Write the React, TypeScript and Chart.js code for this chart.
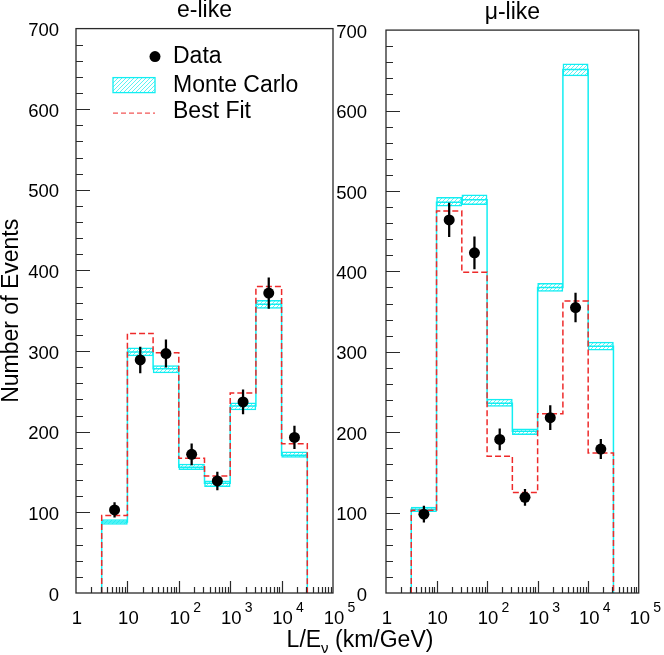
import React, { useEffect, useRef } from 'react';
import { Chart, registerables } from 'chart.js';

Chart.register(...registerables);

// ---- data ----
const binEdgeExponents = [0.5, 1, 1.5, 2, 2.5, 3, 3.5, 4, 4.5];
const decadeExponents = [0, 1, 2, 3, 4, 5];
const legendLabels = ['Data', 'Monte Carlo', 'Best Fit'];
const panelTitles = ['e-like', 'μ-like'];
const yAxisTitle = 'Number of Events';

const eLikeMcLow = [85, 294, 273, 153, 132, 227, 353, 168];
const eLikeMc = [88, 299, 278, 156, 136, 232, 358, 171];
const eLikeMcHigh = [91, 304, 282, 160, 139, 236, 363, 175];
const eLikeFit = [96, 322, 298, 167, 145, 248, 380, 185];
const eLikeData = [103, 289, 297, 172, 139, 237, 372, 193];
const eLikeErr = [9, 16, 17, 13, 11, 15, 19, 14];

const muLikeMcLow = [101, 481, 483, 232, 197, 375, 643, 302];
const muLikeMc = [104, 486, 489, 236, 201, 380, 651, 307];
const muLikeMcHigh = [107, 492, 495, 241, 204, 385, 658, 312];
const muLikeFit = [103, 475, 399, 170, 125, 223, 363, 174];
const muLikeData = [98, 464, 423, 191, 119, 218, 355, 179];
const muLikeErr = [10, 21, 20, 13, 10, 15, 18, 12];

const FONT = '"Liberation Sans", Arial, Helvetica, sans-serif';
const CYAN = '#12eef2';
const HATCH = '#5cf2f4';
const RED = '#ee2a2a';
const INK = '#2a2a2a';

const edges = binEdgeExponents.map((e) => Math.pow(10, e));
const centers = binEdgeExponents
  .slice(0, -1)
  .map((e, i) => Math.pow(10, (e + binEdgeExponents[i + 1]) / 2));

function stepPoints(vals: number[]) {
  const pts: { x: number; y: number }[] = [{ x: edges[0], y: 0 }];
  vals.forEach((v, i) => {
    pts.push({ x: edges[i], y: v });
    pts.push({ x: edges[i + 1], y: v });
  });
  pts.push({ x: edges[edges.length - 1], y: 0 });
  return pts;
}

function makeHatch(ctx: CanvasRenderingContext2D) {
  const c = document.createElement('canvas');
  c.width = 4;
  c.height = 4;
  const g = c.getContext('2d')!;
  g.fillStyle = '#ffffff';
  g.fillRect(0, 0, 4, 4);
  g.strokeStyle = HATCH;
  g.lineWidth = 1;
  g.beginPath();
  g.moveTo(-1, 5);
  g.lineTo(5, -1);
  g.stroke();
  g.beginPath();
  g.moveTo(-1, 1);
  g.lineTo(1, -1);
  g.moveTo(3, 5);
  g.lineTo(5, 3);
  g.stroke();
  return ctx.createPattern(c, 'repeat')!;
}

type Panel = {
  title: string;
  mcLow: number[];
  mc: number[];
  mcHigh: number[];
  fit: number[];
  data: number[];
  err: number[];
  showYTitle: boolean;
  showLegend: boolean;
  showXTitle: boolean;
  yWidth: number;
  yPad: number;
  rightPad: number;
};

function decorPlugin(panel: Panel, hatch: CanvasPattern) {
  return {
    id: 'decor',
    afterDraw(chart: any) {
      const { ctx, chartArea } = chart;
      const xs = chart.scales.x;
      const ys = chart.scales.y;
      const { left, right, top, bottom } = chartArea;
      ctx.save();
      // frame
      ctx.strokeStyle = INK;
      ctx.lineWidth = 1.3;
      ctx.strokeRect(left, top, right - left, bottom - top);
      // inside ticks, y
      ctx.lineWidth = 1.2;
      ctx.beginPath();
      for (let v = ys.min + 20; v < ys.max; v += 20) {
        const y = Math.round(ys.getPixelForValue(v)) + 0.5;
        const len = v % 100 === 0 ? 14 : 7;
        ctx.moveTo(left, y);
        ctx.lineTo(left + len, y);
      }
      // inside ticks, x
      decadeExponents.slice(0, -1).forEach((d) => {
        for (let m = 1; m <= 9; m++) {
          const v = m * Math.pow(10, d);
          const x = Math.round(xs.getPixelForValue(v)) + 0.5;
          if (m === 1 && d === 0) continue;
          const len = m === 1 ? 12 : 6;
          ctx.moveTo(x, bottom);
          ctx.lineTo(x, bottom - len);
        }
      });
      ctx.stroke();
      // exponents of tick labels
      ctx.fillStyle = '#000';
      ctx.font = `14px ${FONT}`;
      ctx.textAlign = 'left';
      ctx.textBaseline = 'middle';
      decadeExponents.forEach((d) => {
        if (d < 2) return;
        const x = xs.getPixelForValue(Math.pow(10, d));
        ctx.fillText(String(d), x + 14.5, bottom + 15);
      });
      // legend
      if (panel.showLegend) {
        const sx0 = left + 37;
        const sx1 = left + 79;
        const tx = left + 97;
        const rows = [top + 28, top + 57, top + 83];
        ctx.fillStyle = '#000';
        ctx.beginPath();
        ctx.arc(sx1, rows[0], 5.5, 0, Math.PI * 2);
        ctx.fill();
        ctx.fillStyle = hatch;
        ctx.fillRect(sx0, rows[1] - 8, sx1 - sx0, 15);
        ctx.strokeStyle = CYAN;
        ctx.lineWidth = 1.3;
        ctx.strokeRect(sx0, rows[1] - 8, sx1 - sx0, 15);
        ctx.strokeStyle = RED;
        ctx.lineWidth = 1;
        ctx.setLineDash([5, 3]);
        ctx.beginPath();
        ctx.moveTo(sx0, rows[2] + 1.5);
        ctx.lineTo(sx1, rows[2] + 1.5);
        ctx.stroke();
        ctx.setLineDash([]);
        ctx.fillStyle = '#000';
        ctx.font = `23px ${FONT}`;
        ctx.textBaseline = 'middle';
        legendLabels.forEach((t, i) => ctx.fillText(t, tx, rows[i]));
      }
      // x-axis title spanning both panels
      if (panel.showXTitle) {
        const a = 'L/E';
        const b = 'ν';
        const c = ' (km/GeV)';
        ctx.textBaseline = 'alphabetic';
        ctx.font = `23px ${FONT}`;
        const wa = ctx.measureText(a).width;
        const wc = ctx.measureText(c).width;
        ctx.font = `15px ${FONT}`;
        const wb = ctx.measureText(b).width;
        const x0 = 360 - (wa + wb + wc) / 2;
        const base = bottom + 54;
        ctx.fillStyle = '#000';
        ctx.font = `23px ${FONT}`;
        ctx.fillText(a, x0, base);
        ctx.font = `15px ${FONT}`;
        ctx.fillText(b, x0 + wa, base + 6);
        ctx.font = `23px ${FONT}`;
        ctx.fillText(c, x0 + wa + wb, base);
      }
      ctx.restore();
    },
  };
}

function buildChart(canvas: HTMLCanvasElement, panel: Panel) {
  const ctx = canvas.getContext('2d')!;
  const hatch = makeHatch(ctx);
  return new Chart(ctx, {
    type: 'bar',
    data: {
      datasets: [
        {
          type: 'scatter',
          label: legendLabels[0],
          data: centers.map((x, i) => ({ x, y: panel.data[i] })),
          pointRadius: 5.5,
          pointBackgroundColor: '#000',
          pointBorderWidth: 0,
          order: 0,
        } as any,
        {
          type: 'bar',
          label: 'error',
          data: centers.map((x, i) => ({
            x,
            y: [panel.data[i] - panel.err[i], panel.data[i] + panel.err[i]],
          })),
          backgroundColor: '#000',
          borderWidth: 0,
          barThickness: 1.6,
          maxBarThickness: 1.6,
          grouped: false,
          order: 1,
        },
        {
          type: 'line',
          label: legendLabels[2],
          data: stepPoints(panel.fit),
          borderColor: RED,
          borderWidth: 1.5,
          borderDash: [6, 3],
          pointRadius: 0,
          fill: false,
          order: 2,
        },
        {
          type: 'line',
          label: 'mc',
          data: stepPoints(panel.mc),
          borderColor: CYAN,
          borderWidth: 1.5,
          pointRadius: 0,
          fill: false,
          order: 3,
        },
        {
          type: 'bar',
          label: legendLabels[1],
          data: centers.map((x, i) => ({ x, y: [panel.mcLow[i], panel.mcHigh[i]] })),
          backgroundColor: hatch,
          borderColor: CYAN,
          borderWidth: 1.5,
          borderSkipped: false,
          grouped: false,
          barPercentage: 1,
          categoryPercentage: 1,
          order: 4,
        },
      ] as any,
    },
    options: {
      animation: false,
      responsive: false,
      events: [],
      layout: { padding: { left: 0, top: 0, bottom: 0, right: panel.rightPad } },
      plugins: {
        legend: { display: false },
        tooltip: { enabled: false },
        title: {
          display: true,
          text: panel.title,
          color: '#000',
          font: { size: 23, family: FONT, weight: 'normal' },
          padding: { top: -3, bottom: 4 },
          fullSize: false,
        },
      },
      scales: {
        x: {
          type: 'logarithmic',
          min: 1,
          max: 100000,
          offset: false,
          grid: { display: false, drawTicks: false },
          border: { display: false },
          afterBuildTicks: (s: any) => {
            s.ticks = decadeExponents.map((d) => ({ value: Math.pow(10, d) }));
          },
          afterFit: (s: any) => {
            s.height = 62;
          },
          ticks: {
            autoSkip: false,
            maxRotation: 0,
            color: '#000',
            padding: 15,
            labelOffset: 1,
            font: { size: 18.5, family: FONT },
            callback: (v: any) => (Number(v) === 1 ? '1' : '10'),
          },
        },
        y: {
          type: 'linear',
          min: 0,
          max: 700,
          grid: { display: false, drawTicks: false },
          border: { display: false },
          afterFit: (s: any) => {
            s.width = panel.yWidth;
          },
          ticks: {
            stepSize: 100,
            color: '#000',
            padding: panel.yPad,
            labelOffset: 2.5,
            font: { size: 18.5, family: FONT },
          },
          title: {
            display: panel.showYTitle,
            text: yAxisTitle,
            color: '#000',
            font: { size: 23, family: FONT, lineHeight: 1 },
            padding: 0,
          },
        },
      },
    } as any,
    plugins: [decorPlugin(panel, hatch)],
  });
}

const leftPanel: Panel = {
  title: panelTitles[0],
  mcLow: eLikeMcLow,
  mc: eLikeMc,
  mcHigh: eLikeMcHigh,
  fit: eLikeFit,
  data: eLikeData,
  err: eLikeErr,
  showYTitle: true,
  showLegend: true,
  showXTitle: true,
  yWidth: 76,
  yPad: 17,
  rightPad: 331,
};

const rightPanel: Panel = {
  title: panelTitles[1],
  mcLow: muLikeMcLow,
  mc: muLikeMc,
  mcHigh: muLikeMcHigh,
  fit: muLikeFit,
  data: muLikeData,
  err: muLikeErr,
  showYTitle: false,
  showLegend: false,
  showXTitle: false,
  yWidth: 66,
  yPad: 19,
  rightPad: 21,
};

export default function App() {
  const leftRef = useRef<HTMLCanvasElement>(null);
  const rightRef = useRef<HTMLCanvasElement>(null);
  useEffect(() => {
    const a = buildChart(leftRef.current!, leftPanel);
    const b = buildChart(rightRef.current!, rightPanel);
    return () => {
      a.destroy();
      b.destroy();
    };
  }, []);
  return (
    <div
      style={{
        position: 'absolute',
        left: 0,
        top: 0,
        width: 664,
        height: 655,
        overflow: 'hidden',
        background: '#fff',
      }}
    >
      <canvas
        ref={leftRef}
        width={664}
        height={655}
        style={{ position: 'absolute', left: 0, top: 0, display: 'block' }}
      />
      <canvas
        ref={rightRef}
        width={344}
        height={655}
        style={{ position: 'absolute', left: 320, top: 0, display: 'block' }}
      />
    </div>
  );
}
